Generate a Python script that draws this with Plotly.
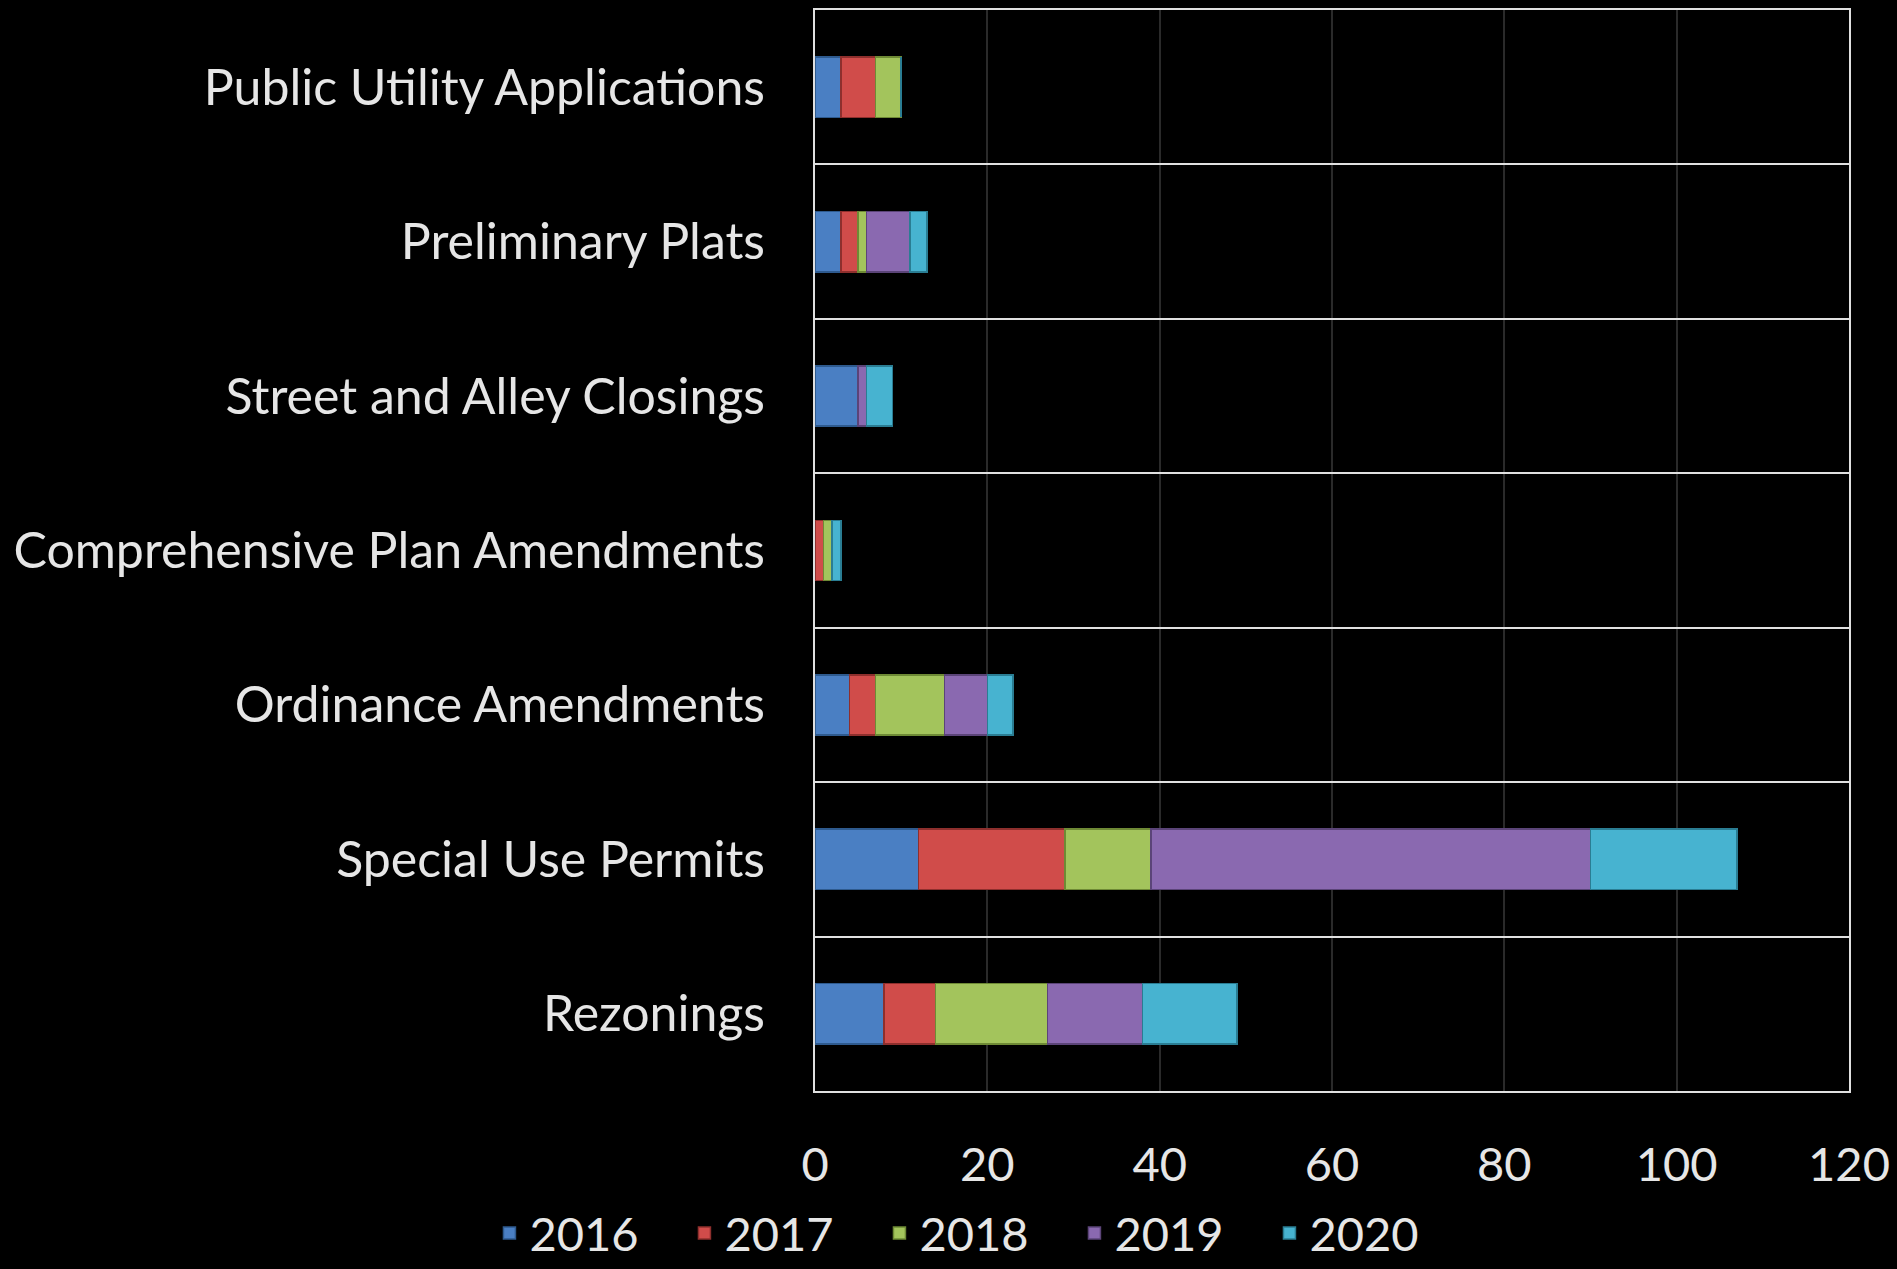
import plotly.graph_objects as go

categories = ["Public Utility Applications", "Preliminary Plats", "Street and Alley Closings",
              "Comprehensive Plan Amendments", "Ordinance Amendments", "Special Use Permits", "Rezonings"]
years = ["2016", "2017", "2018", "2019", "2020"]
v2016 = [3, 3, 5, 0, 4, 12, 8]
v2017 = [4, 2, 0, 1, 3, 17, 6]
v2018 = [3, 1, 0, 1, 8, 10, 13]
v2019 = [0, 5, 1, 0, 5, 51, 11]
v2020 = [0, 2, 3, 1, 3, 17, 11]
x_ticks = [0, 20, 40, 60, 80, 100, 120]

series = [v2016, v2017, v2018, v2019, v2020]
colors = ["#4A7FC3", "#D04C4A", "#A3C45C", "#8A69B0", "#47B3D0"]
edges = ["#2E5A8E", "#8E2F2D", "#6E8A35", "#5B4478", "#2A7D93"]

FONT = "Lato"
fig = go.Figure()
for name, vals, c, e in zip(years, series, colors, edges):
    fig.add_trace(go.Bar(
        y=categories, x=vals, name=name, orientation="h",
        marker=dict(color=c, line=dict(color=e, width=1.5)),
    ))

fig.update_layout(
    barmode="stack",
    bargap=0.61,
    width=1897, height=1269,
    paper_bgcolor="black", plot_bgcolor="black",
    margin=dict(l=815, r=48, t=10, b=178, autoexpand=False),
    font=dict(family=FONT, color="#E6E6E6", size=50),
    legend=dict(orientation="h", xref="container", yref="container",
                x=0.515, xanchor="center", y=0.028, yanchor="middle",
                font=dict(size=47, color="#E6E6E6"), traceorder="normal",
                entrywidth=150, entrywidthmode="pixels", bgcolor="rgba(0,0,0,0)"),
    xaxis=dict(range=[0, 120], tickvals=x_ticks, showgrid=True, gridcolor="#2A2A2A", gridwidth=1.5,
               zeroline=False, showline=True, linecolor="#E0E0E0", linewidth=2, mirror=True,
               ticks="", ticklabelstandoff=32, tickfont=dict(size=47, color="#E6E6E6")),
    yaxis=dict(categoryorder="array", categoryarray=categories, autorange="reversed",
               tickson="boundaries", showgrid=True, gridcolor="#E0E0E0", gridwidth=2,
               showline=True, linecolor="#E0E0E0", linewidth=2, mirror=True,
               ticks="", ticklabelstandoff=38, tickfont=dict(size=50, color="#E6E6E6")),
)

fig.write_html("out.html", config={"displayModeBar": False},
               post_script="document.body.style.margin='0';document.body.style.background='black';")
